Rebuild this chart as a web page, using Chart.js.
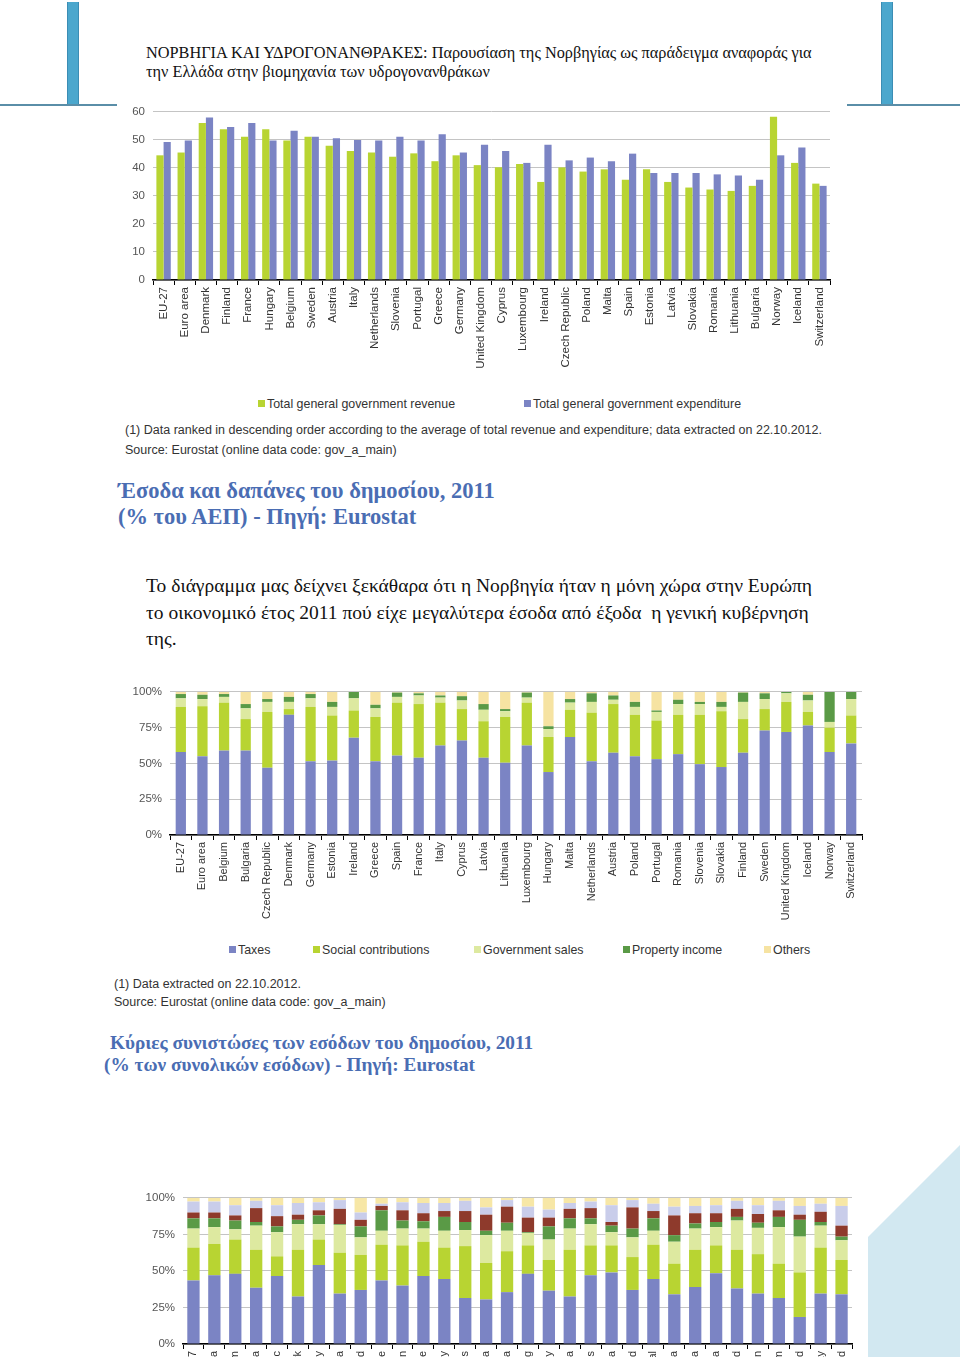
<!DOCTYPE html>
<html>
<head>
<meta charset="utf-8">
<script src="https://cdn.jsdelivr.net/npm/chart.js@4.4.1/dist/chart.umd.min.js"></script>
<style>
  html, body { margin:0; padding:0; background:#fff; }
  #page { position:relative; width:960px; height:1357px; overflow:hidden; background:#fff; }
  .abs { position:absolute; }
  .hdr { font-family:"Liberation Serif", serif; font-size:16.3px; color:#111; white-space:nowrap; }
  .cap { font-family:"Liberation Serif", serif; font-weight:bold; color:#4a6db3; white-space:nowrap; }
  .para { font-family:"Liberation Serif", serif; font-size:19.5px; color:#111; white-space:nowrap; line-height:26.5px; }
  .leg { font-family:"Liberation Sans", Arial, sans-serif; font-size:12.4px; color:#333; white-space:nowrap; }
  .sq { display:inline-block; width:7px; height:7px; margin-right:2px; vertical-align:1px; }
  .note { font-family:"Liberation Sans", Arial, sans-serif; font-size:12.5px; color:#333; white-space:nowrap; }
</style>
</head>
<body>
<div id="page">
  <!-- header decoration -->
  <div class="abs" style="left:67px;top:2px;width:12px;height:103px;background:#4ba7cd;border-left:1px solid #3b8db4;border-right:1px solid #3b8db4;box-sizing:border-box;"></div>
  <div class="abs" style="left:881px;top:2px;width:12px;height:103px;background:#4ba7cd;border-left:1px solid #3b8db4;border-right:1px solid #3b8db4;box-sizing:border-box;"></div>
  <div class="abs" style="left:0;top:104px;width:117px;height:2px;background:#5a8ea8;"></div>
  <div class="abs" style="left:847px;top:104px;width:113px;height:2px;background:#5a8ea8;"></div>
  <div class="abs hdr" style="left:146px;top:43px;">ΝΟΡΒΗΓΙΑ ΚΑΙ ΥΔΡΟΓΟΝΑΝΘΡΑΚΕΣ: Παρουσίαση της Νορβηγίας ως παράδειγμα αναφοράς για</div>
  <div class="abs hdr" style="left:146px;top:62px;">την Ελλάδα στην βιομηχανία των υδρογονανθράκων</div>

  <!-- chart 1 -->
  <div class="abs" style="left:100px;top:97px;width:740px;height:280px;"><canvas id="c1"></canvas></div>
  <div class="abs leg" style="left:258px;top:397px;"><span class="sq" style="background:#b8d432"></span>Total general government revenue</div>
  <div class="abs leg" style="left:524px;top:397px;"><span class="sq" style="background:#7b84c4"></span>Total general government expenditure</div>
  <div class="abs note" style="left:125px;top:423px;">(1) Data ranked in descending order according to the average of total revenue and expenditure; data extracted on 22.10.2012.</div>
  <div class="abs note" style="left:125px;top:443px;">Source: Eurostat (online data code: gov_a_main)</div>

  <div class="abs cap" style="left:118px;top:478px;font-size:22.5px;">Έσοδα και δαπάνες του δημοσίου, 2011</div>
  <div class="abs cap" style="left:118px;top:504px;font-size:22.5px;">(% του ΑΕΠ) - Πηγή: Eurostat</div>

  <div class="abs para" style="left:146px;top:573px;">Το διάγραμμα μας δείχνει ξεκάθαρα ότι η Νορβηγία ήταν η μόνη χώρα στην Ευρώπη<br>το οικονομικό έτος 2011 πού είχε μεγαλύτερα έσοδα από έξοδα &nbsp;η γενική κυβέρνηση<br>της.</div>

  <!-- chart 2 -->
  <div class="abs" style="left:110px;top:677px;width:760px;height:250px;"><canvas id="c2"></canvas></div>
  <div class="abs leg" style="left:229px;top:943px;"><span class="sq" style="background:#7b84c4"></span>Taxes</div>
  <div class="abs leg" style="left:313px;top:943px;"><span class="sq" style="background:#b8d432"></span>Social contributions</div>
  <div class="abs leg" style="left:474px;top:943px;"><span class="sq" style="background:#dde9a0"></span>Government sales</div>
  <div class="abs leg" style="left:623px;top:943px;"><span class="sq" style="background:#5a9a46"></span>Property income</div>
  <div class="abs leg" style="left:764px;top:943px;"><span class="sq" style="background:#f6e3a2"></span>Others</div>
  <div class="abs note" style="left:114px;top:977px;">(1) Data extracted on 22.10.2012.</div>
  <div class="abs note" style="left:114px;top:995px;">Source: Eurostat (online data code: gov_a_main)</div>

  <div class="abs cap" style="left:110px;top:1032px;font-size:19.3px;">Κύριες συνιστώσες των εσόδων του δημοσίου, 2011</div>
  <div class="abs cap" style="left:104px;top:1054px;font-size:19.3px;">(% των συνολικών εσόδων) - Πηγή: Eurostat</div>

  <!-- chart 3 -->
  <div class="abs" style="left:120px;top:1183px;width:740px;height:250px;"><canvas id="c3"></canvas></div>

  <!-- corner decoration -->
  <svg class="abs" style="left:0;top:0;" width="960" height="1357"><polygon points="868,1237 960,1145 960,1357 868,1357" fill="#d2e8f1"/></svg>
</div>

<script>
// ---------- Chart 1 data: revenue & expenditure (% of GDP), 2011 ----------
const revExpCategories = ["EU-27","Euro area","Denmark","Finland","France","Hungary","Belgium","Sweden","Austria","Italy","Netherlands","Slovenia","Portugal","Greece","Germany","United Kingdom","Cyprus","Luxembourg","Ireland","Czech Republic","Poland","Malta","Spain","Estonia","Latvia","Slovakia","Romania","Lithuania","Bulgaria","Norway","Iceland","Switzerland"];
const revenue     = [44.5,45.5,56,53.8,51.1,53.8,49.8,51.1,47.9,46,45.5,44,45.2,42.4,44.5,41,40.2,41.4,35,40.2,38.7,39.5,35.8,39.5,35,33,32.3,31.8,33.6,58.3,41.8,34.4];
const expenditure = [49.3,49.8,58,54.6,56,49.8,53.3,51.1,50.6,50,49.8,51.1,49.8,52,45.5,48.3,46,41.8,48.3,42.7,43.7,42.4,45.1,38.2,38.2,38.2,37.7,37.3,35.8,44.5,47.3,33.6];
const revExpTicks = [0,10,20,30,40,50,60];

// ---------- Chart 2 data: main components of revenue (% of total), 2011 ----------
const revCompCategories = ["EU-27","Euro area","Belgium","Bulgaria","Czech Republic","Denmark","Germany","Estonia","Ireland","Greece","Spain","France","Italy","Cyprus","Latvia","Lithuania","Luxembourg","Hungary","Malta","Netherlands","Austria","Poland","Portugal","Romania","Slovenia","Slovakia","Finland","Sweden","United Kingdom","Iceland","Norway","Switzerland"];
const taxes          = [58,55,59,59,47,84,51.5,52,68,51.5,55.5,54,62.5,66,54,50.5,62.5,44,68.5,51.5,57.5,55,53,56.5,49.5,47.5,57.5,73,72,76.5,58,64];
const socialContrib  = [31.5,35,33.5,22,39,4,38,31.5,19,31,37,37.5,30,22,25.5,32,30,24.5,19,34,34,29,27,27.5,34.5,39,23.5,15,21,9.5,17,19.5];
const govSales       = [6,5,4,7.5,7,5,6,6,8.5,6,4,6,3.5,6,8,4,3.5,5.5,5,7.5,3,5.5,6,7.5,7.5,3,12,7,6,8,4,11.5];
const propertyIncome = [3,3,2,3,2,3.5,3,3.5,4.5,2.5,3,1.5,1.5,3,4,1.5,3.5,2,2.5,6,3,3.5,1,3,1.5,3.5,6.5,4,1,4,21,5];
const otherRevenue   = [1.5,2,1.5,8.5,5,3.5,1.5,7,0,9,0.5,1,2.5,3,8.5,12,0.5,24,5,1,2.5,7,13,5.5,7,7,0.5,1,0,2,0,0];
const percentTicks = [0,25,50,75,100];

// ---------- Chart 3 data: components of expenditure (% of total), 2011 ----------
const expCompCategories = ["EU-27","Euro area","Belgium","Bulgaria","Czech Republic","Denmark","Germany","Estonia","Ireland","Greece","Spain","France","Italy","Cyprus","Latvia","Lithuania","Luxembourg","Hungary","Malta","Netherlands","Austria","Poland","Portugal","Romania","Slovenia","Slovakia","Finland","Sweden","United Kingdom","Iceland","Norway","Switzerland"];
const expSeries1 = [43.5,47,48,38.5,46.5,32.5,54,34.5,37,43.5,40,46.5,44.5,31.5,30.5,35.5,48,36.5,32.5,47,49,37,44.5,34,39,48.5,38,34.5,31.5,18.5,34.5,34];
const expSeries2 = [22.5,21.5,23.5,26,13.5,32,17.5,28,24,24.5,27.5,23.5,21.5,35.5,25,28,19.5,21,32,20.5,18.5,22.5,23.5,21,25.5,19,26.5,27,23.5,30.5,31.5,23.5];
const expSeries3 = [13,11.5,7,16.5,16.5,17.5,10.5,19,12,9.5,11.5,9,11.5,11,19,14,8.5,14,14.5,14.5,9,13.5,9.5,15,14.5,12.5,20,18,25,24.5,15,13.5];
const expSeries4 = [7,6,6,2.5,4,3,6,0.5,7.5,14,5.5,5,9.5,5.5,3,5.5,0.5,9,7,4,4.5,6,8.5,4.5,3.5,3.5,2.5,3.5,7,11.5,2.5,2.5];
const expSeries5 = [4,4,3.5,9.5,7,3.5,3.5,10.5,4.5,3,7,5.5,4,7.5,11,11,10,6,6.5,7,2.5,14.5,5,13.5,7,6,5.5,6,4.5,3.5,7,7.5];
const expSeries6 = [7.5,7.5,7,5,7.5,8,5.5,6,5,1.5,5.5,7,5.5,7,5,4.5,7.5,5.5,4,4.5,11.5,5,5,6,5,5.5,5.5,6,6.5,6,5.5,13.5];
const expSeries7 = [2.5,2.5,5,2,5,3.5,3,1.5,10,4,3,3.5,3.5,2,6.5,1.5,6,8,3.5,2.5,5,1.5,4,6,5.5,5,2,5,2,5.5,4,5.5];

const C = { blue:"#7b84c4", lime:"#b8d432", pale:"#dde9a0", dgreen:"#5a9a46", others:"#f6e3a2", red:"#8e3a2c", lav:"#c9cdea", yel:"#f7e7a6" };
const FONT = "'Liberation Sans', Arial, sans-serif";

function baseOptions(opts) {
  return {
    responsive:false, animation:false, maintainAspectRatio:false,
    layout:{ padding:{ top:opts.padTop, right:opts.padRight, left:0, bottom:0 } },
    plugins:{ legend:{ display:false }, tooltip:{ enabled:false } },
    scales:{
      x:{
        stacked:opts.stacked,
        grid:{ display:true, drawOnChartArea:false, offset:true, tickLength:5, color:"#000" },
        border:{ display:true, color:"#000", width:1.5 },
        ticks:{ autoSkip:false, minRotation:90, maxRotation:90, padding:2, color:"#333", font:{ family:FONT, size:opts.xFont } },
        afterFit:(s)=>{ s.height = opts.xHeight; }
      },
      y:{
        stacked:opts.stacked, min:0, max:opts.max,
        afterBuildTicks:(s)=>{ s.ticks = opts.ticks.map(v=>({value:v})); },
        grid:{ color:"#c4c4c4", drawTicks:false, lineWidth:1 },
        border:{ display:false },
        ticks:{ padding:opts.yPad, color:"#555", font:{ family:FONT, size:11.5 }, callback:opts.yCb },
        afterFit:(s)=>{ s.width = opts.yWidth; }
      }
    }
  };
}

function sizeCanvas(id, w, h){ const c=document.getElementById(id); c.width=w; c.height=h; c.style.width=w+"px"; c.style.height=h+"px"; return c; }

// Chart 1
new Chart(sizeCanvas("c1",740,280), {
  type:"bar",
  data:{ labels:revExpCategories, datasets:[
    { data:revenue, backgroundColor:C.lime, categoryPercentage:0.68, barPercentage:1.0 },
    { data:expenditure, backgroundColor:C.blue, categoryPercentage:0.68, barPercentage:1.0 }
  ]},
  options: baseOptions({ stacked:false, max:60, ticks:revExpTicks, padTop:8, padRight:10, xHeight:97, yWidth:53, yPad:8, xFont:11.5, yCb:(v)=>v })
});

// Chart 2
new Chart(sizeCanvas("c2",760,250), {
  type:"bar",
  data:{ labels:revCompCategories, datasets:[
    { data:taxes, backgroundColor:C.blue },
    { data:socialContrib, backgroundColor:C.lime },
    { data:govSales, backgroundColor:C.pale },
    { data:propertyIncome, backgroundColor:C.dgreen },
    { data:otherRevenue, backgroundColor:C.others }
  ].map(d=>Object.assign(d,{ categoryPercentage:0.5, barPercentage:0.95 })) },
  options: baseOptions({ stacked:true, max:100, ticks:percentTicks, padTop:8, padRight:8, xHeight:92, yWidth:60, yPad:8, xFont:11, yCb:(v)=>v+"%" })
});

// Chart 3
new Chart(sizeCanvas("c3",740,250), {
  type:"bar",
  data:{ labels:expCompCategories, datasets:[
    { data:expSeries1, backgroundColor:C.blue },
    { data:expSeries2, backgroundColor:C.lime },
    { data:expSeries3, backgroundColor:C.pale },
    { data:expSeries4, backgroundColor:C.dgreen },
    { data:expSeries5, backgroundColor:C.red },
    { data:expSeries6, backgroundColor:C.lav },
    { data:expSeries7, backgroundColor:C.yel }
  ].map(d=>Object.assign(d,{ categoryPercentage:0.62, barPercentage:0.95 })) },
  options: baseOptions({ stacked:true, max:100, ticks:percentTicks, padTop:8, padRight:8, xHeight:89, yWidth:63, yPad:8, xFont:11, yCb:(v)=>v+"%" })
});
</script>
</body>
</html>
